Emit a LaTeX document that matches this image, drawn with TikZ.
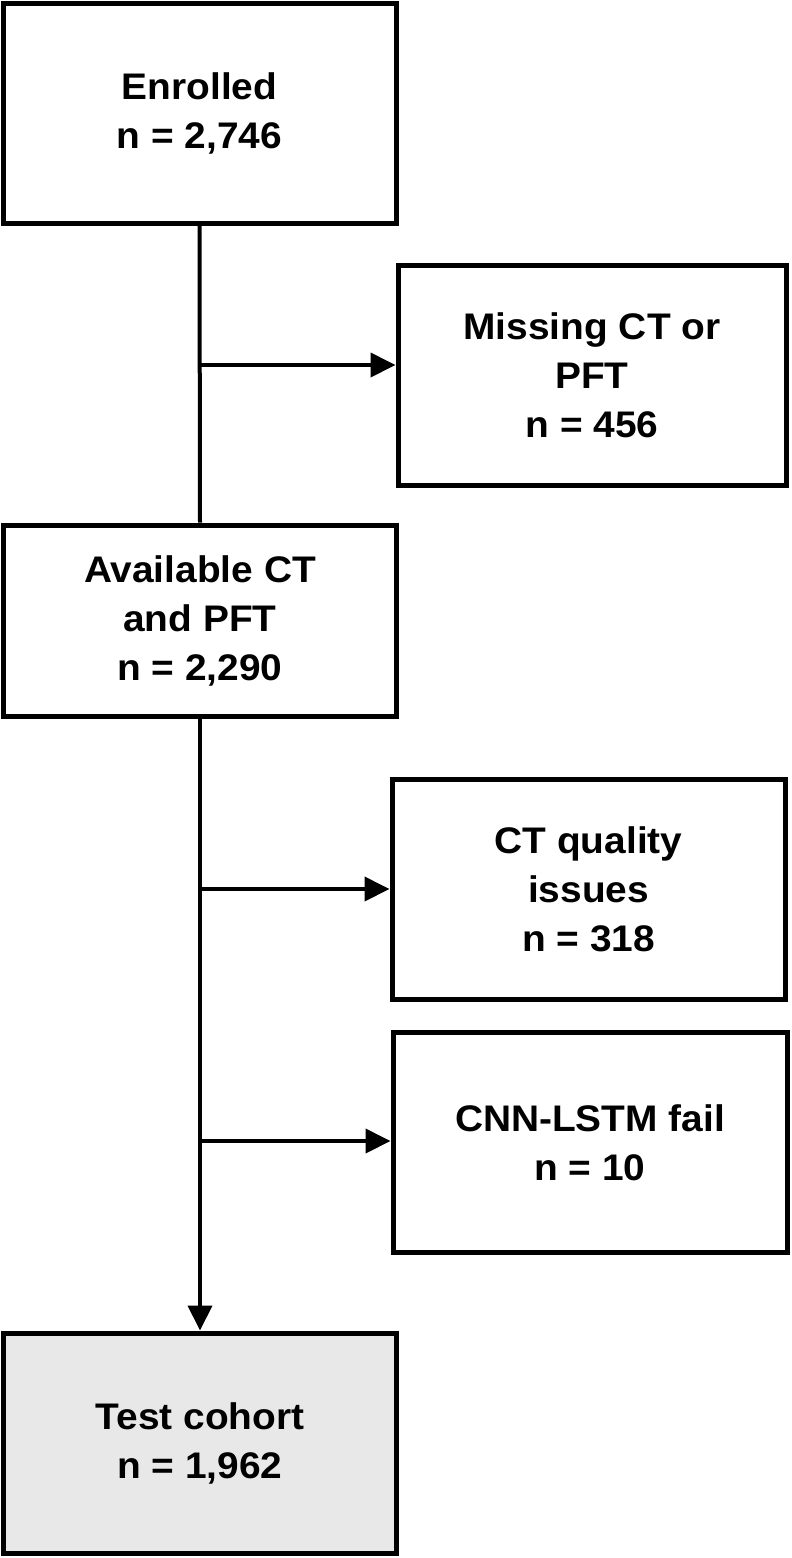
\documentclass[tikz,border=0pt]{standalone}
\usepackage{fontspec}
\newfontfamily\boxfont[FakeStretch=1.05]{Liberation Sans}
\usetikzlibrary{arrows.meta}

\tikzset{
  box/.style={draw, line width=5pt, inner sep=0pt, align=center,
    minimum width=393pt, minimum height=220pt,
    font=\boxfont\bfseries\fontsize{37}{49}\selectfont},
  flow/.style={line width=4pt, -{Triangle[length=25pt,width=24pt]}},
  spine/.style={line width=4pt}
}

\begin{document}
\begin{tikzpicture}[x=1pt, y=-1pt]
\useasboundingbox (0,0) rectangle (792,1558);
% main column
\node[box] (enrol) at (199.5,113.5) {Enrolled\\n = 2,746};
\node[box, minimum height=191pt] (avail) at (200,620.5) {Available CT\\and PFT\\n = 2,290};
\node[box, fill={rgb,255:red,232;green,232;blue,232}] (test) at (200,1443) {Test cohort\\n = 1,962};
% exclusions
\node[box, minimum width=388pt] (missing) at (592,375) {Missing CT or\\PFT\\n = 456};
\node[box] (ctq) at (588.5,889.5) {CT quality\\issues\\n = 318};
\node[box, minimum width=394pt] (cnn) at (590,1142.5) {CNN-LSTM fail\\n = 10};

\coordinate (b1) at (200,365);
\coordinate (b2) at (200,889);
\coordinate (b3) at (200,1141);

\draw[spine] (enrol.south) -- (avail.north);
\draw[flow] (avail.south) -- (test.north);
\path[flow]
(b1) edge (b1 -| missing.west)
(b2) edge (b2 -| ctq.west)
(b3) edge (b3 -| cnn.west);
\end{tikzpicture}
\end{document}
